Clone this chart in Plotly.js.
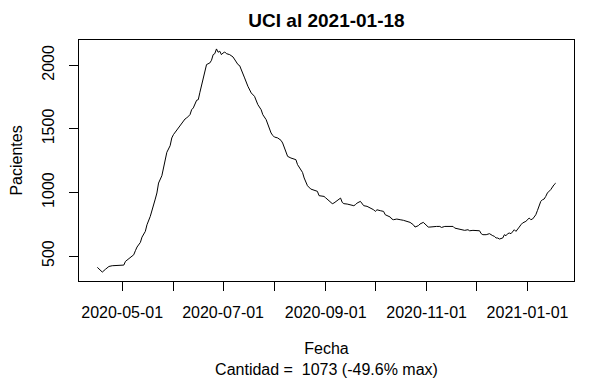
<!DOCTYPE html>
<html>
<head>
<meta charset="utf-8">
<script src="https://cdn.plot.ly/plotly-3.0.1.min.js"></script>
<style>html,body{margin:0;padding:0;background:#fff;}#chart{width:614px;height:379px;}</style>
</head>
<body>
<div id="chart"></div>
<script>
const fechas = ['2020-04-16','2020-04-17','2020-04-19','2020-04-21','2020-04-23','2020-04-25','2020-04-27','2020-04-29',
'2020-05-01','2020-05-02','2020-05-03','2020-05-05','2020-05-07','2020-05-08','2020-05-09','2020-05-10','2020-05-12','2020-05-13','2020-05-15','2020-05-16','2020-05-18','2020-05-20','2020-05-21','2020-05-22','2020-05-23','2020-05-25','2020-05-26','2020-05-27','2020-05-28','2020-05-30','2020-05-31',
'2020-06-01','2020-06-03','2020-06-05','2020-06-06','2020-06-08','2020-06-09','2020-06-11','2020-06-12','2020-06-13','2020-06-15','2020-06-16','2020-06-17','2020-06-18','2020-06-19','2020-06-20','2020-06-21','2020-06-23','2020-06-24','2020-06-25','2020-06-26','2020-06-27','2020-06-28','2020-06-29','2020-06-30',
'2020-07-01','2020-07-02','2020-07-03','2020-07-05','2020-07-07','2020-07-09','2020-07-10','2020-07-11','2020-07-12','2020-07-13','2020-07-14','2020-07-16','2020-07-17','2020-07-18','2020-07-20','2020-07-21','2020-07-22','2020-07-24','2020-07-25','2020-07-27','2020-07-28','2020-07-29','2020-07-30','2020-07-31',
'2020-08-01','2020-08-03','2020-08-05','2020-08-06','2020-08-07','2020-08-08','2020-08-09','2020-08-11','2020-08-13','2020-08-14','2020-08-15','2020-08-16','2020-08-17','2020-08-18','2020-08-19','2020-08-20','2020-08-21','2020-08-23','2020-08-25','2020-08-26','2020-08-27','2020-08-28','2020-08-30','2020-08-31',
'2020-09-01','2020-09-03','2020-09-05','2020-09-06','2020-09-08','2020-09-09','2020-09-10','2020-09-11','2020-09-12','2020-09-14','2020-09-16','2020-09-18','2020-09-19','2020-09-20','2020-09-22','2020-09-23','2020-09-24','2020-09-26','2020-09-28','2020-09-30',
'2020-10-01','2020-10-02','2020-10-04','2020-10-05','2020-10-06','2020-10-07','2020-10-08','2020-10-09','2020-10-10','2020-10-11','2020-10-12','2020-10-14','2020-10-15','2020-10-16','2020-10-18','2020-10-20','2020-10-22','2020-10-24','2020-10-25','2020-10-27','2020-10-28','2020-10-30','2020-10-31',
'2020-11-02','2020-11-03','2020-11-05','2020-11-07','2020-11-09','2020-11-10','2020-11-12','2020-11-13','2020-11-15','2020-11-17','2020-11-18','2020-11-20','2020-11-21','2020-11-23','2020-11-24','2020-11-26','2020-11-27','2020-11-29',
'2020-12-01','2020-12-03','2020-12-04','2020-12-05','2020-12-07','2020-12-08','2020-12-09','2020-12-11','2020-12-12','2020-12-13','2020-12-14','2020-12-15','2020-12-17','2020-12-18','2020-12-19','2020-12-20','2020-12-21','2020-12-22','2020-12-23','2020-12-24','2020-12-25','2020-12-26','2020-12-27','2020-12-28','2020-12-29','2020-12-31',
'2021-01-01','2021-01-02','2021-01-03','2021-01-04','2021-01-05','2021-01-06','2021-01-07','2021-01-08','2021-01-09','2021-01-10','2021-01-11','2021-01-12','2021-01-13','2021-01-15','2021-01-16','2021-01-17','2021-01-18'];

const pacientes = [411,397,374,397,418,424,424,429,
424,429,458,479,497,510,542,571,607,649,694,746,812,891,948,996,1074,1132,1198,1258,1316,1368,1429,
1455,1489,1526,1547,1578,1586,1612,1651,1665,1725,1730,1788,1840,1914,1953,2006,2019,2040,2084,2092,2129,2103,2111,2084,
2097,2105,2092,2084,2066,2024,2006,1998,1961,1927,1901,1835,1804,1783,1756,1717,1691,1651,1612,1573,1533,1499,1468,1449,
1436,1429,1410,1389,1350,1305,1284,1271,1263,1258,1219,1198,1187,1158,1114,1080,1053,1027,1017,1009,1009,975,969,969,
958,935,912,917,938,948,956,922,912,909,904,896,904,917,930,912,896,891,878,864,
851,864,857,851,851,825,817,812,807,791,786,791,791,786,781,773,765,746,728,739,752,765,752,
728,728,733,733,733,725,733,733,728,733,720,715,712,707,702,707,699,702,
699,699,676,668,668,673,676,660,655,642,642,634,642,668,660,676,681,676,694,707,694,707,728,746,760,773,
791,799,786,791,807,825,859,891,930,943,948,969,996,1022,1043,1061,1073];

const mesesTicks = ['2020-05-01','2020-06-01','2020-07-01','2020-08-01','2020-09-01','2020-10-01','2020-11-01','2020-12-01','2021-01-01'];
const mesesEtiquetas = ['2020-05-01','','2020-07-01','','2020-09-01','','2020-11-01','','2021-01-01'];
const yTicks = [500, 1000, 1500, 2000];

const tituloTexto = 'UCI al 2021-01-18';
const xTitulo = 'Fecha<br>Cantidad = &nbsp;1073 (-49.6% max)';
const yTitulo = 'Pacientes';

// R-style axis ranges: data range extended by 4% on each side
const t0 = new Date(fechas[0] + 'T00:00:00Z').getTime();
const t1 = new Date(fechas[fechas.length - 1] + 'T00:00:00Z').getTime();
const dx = (t1 - t0) * 0.04;
const toStr = t => new Date(t).toISOString().slice(0, 19).replace('T', ' ');
const yMin = Math.min(...pacientes), yMax = Math.max(...pacientes);
const dy = (yMax - yMin) * 0.04;

const FONT = 'Liberation Sans, Arial, Helvetica, sans-serif';

const trace = {
  x: fechas, y: pacientes, type: 'scatter', mode: 'lines',
  line: {color: '#000000', width: 1},
  hoverinfo: 'x+y'
};

const layout = {
  width: 614, height: 379,
  margin: {l: 79, r: 40, t: 40, b: 98, pad: 0},
  paper_bgcolor: '#ffffff', plot_bgcolor: '#ffffff',
  font: {family: FONT, size: 16, color: '#000000'},
  showlegend: false,
  title: {
    text: '<b>' + tituloTexto + '</b>',
    font: {family: FONT, size: 19, color: '#000000'},
    x: 0.5, xref: 'paper', xanchor: 'center',
    y: 1 - 20 / 379, yref: 'container', yanchor: 'middle'
  },
  xaxis: {
    type: 'date',
    range: [toStr(t0 - dx), toStr(t1 + dx)],
    tickmode: 'array', tickvals: mesesTicks, ticktext: mesesEtiquetas,
    ticks: 'outside', ticklen: 9, tickwidth: 1, tickcolor: '#000000',
    ticklabelstandoff: 8,
    showline: true, mirror: true, linecolor: '#000000', linewidth: 1,
    showgrid: false, zeroline: false,
    tickfont: {family: FONT, size: 16, color: '#000000'},
    title: {text: xTitulo, font: {family: FONT, size: 16, color: '#000000'}, standoff: 22}
  },
  yaxis: {
    range: [yMin - dy, yMax + dy],
    tickmode: 'array', tickvals: yTicks,
    ticks: 'outside', ticklen: 9, tickwidth: 1, tickcolor: '#000000',
    tickangle: -90,
    ticklabelstandoff: 9,
    showline: true, mirror: true, linecolor: '#000000', linewidth: 1,
    showgrid: false, zeroline: false,
    tickfont: {family: FONT, size: 16, color: '#000000'},
    title: {text: yTitulo, font: {family: FONT, size: 16, color: '#000000'}, standoff: 12}
  }
};

Plotly.newPlot('chart', [trace], layout, {displayModeBar: false, staticPlot: true});
</script>
</body>
</html>
